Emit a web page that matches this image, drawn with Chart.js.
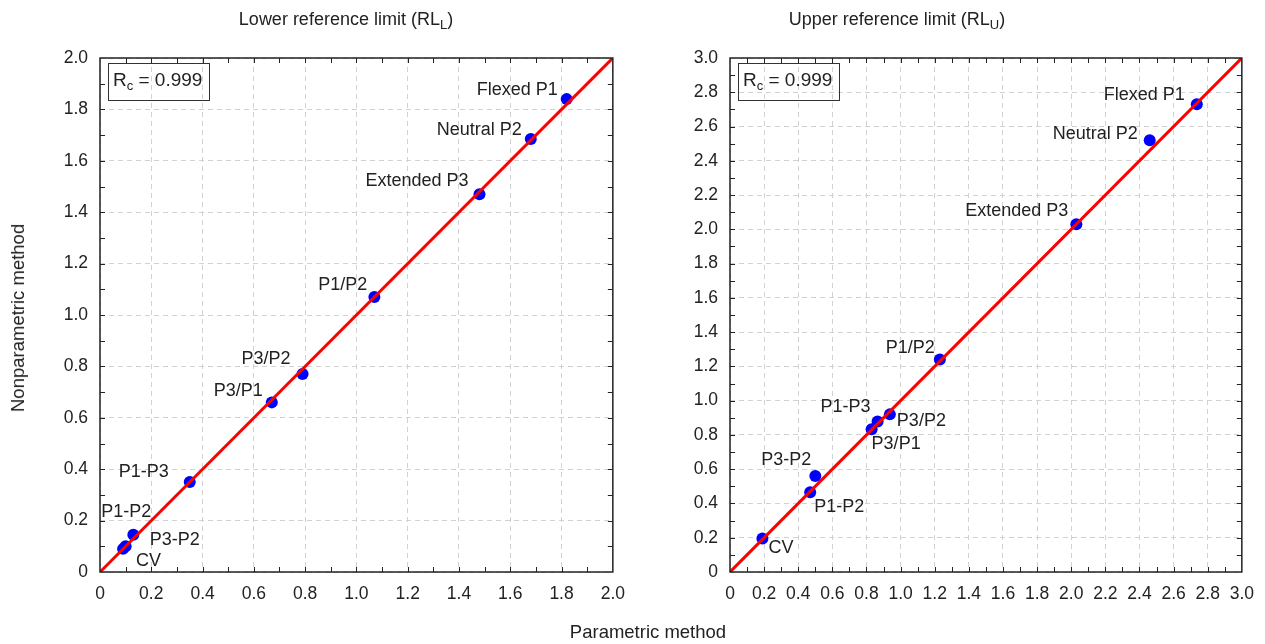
<!DOCTYPE html>
<html>
<head>
<meta charset="utf-8">
<title>Parametric vs nonparametric reference limits</title>
<script src="https://cdn.jsdelivr.net/npm/chart.js@4.4.0/dist/chart.umd.min.js"></script>
<style>
    body { margin: 0; background: #fff; width: 1265px; height: 644px; overflow: hidden; position: relative;
           font-family: Arial, "Liberation Sans", sans-serif; }
    canvas { position: absolute; top: 0; }
    #lowerChart { left: 0; }
    #upperChart { left: 630px; }
    .axisLabel { position: absolute; font-size: 18.5px; color: #222; white-space: nowrap; }
    #xLabel { left: 0; width: 1296px; top: 621px; text-align: center; }
    #yLabel { left: 18px; top: 318px; transform: translate(-50%, -50%) rotate(-90deg); }
</style>
</head>
<body>
<canvas id="lowerChart" width="637" height="644"></canvas>
<canvas id="upperChart" width="636" height="644"></canvas>
<div class="axisLabel" id="xLabel">Parametric method</div>
<div class="axisLabel" id="yLabel">Nonparametric method</div>

<script>
// Lower reference limit (RL_L)
const lowerNames = ["CV", "P3-P2", "P1-P2", "P1-P3", "P3/P1", "P3/P2", "P1/P2", "Extended P3", "Neutral P2", "Flexed P1"];
const lowerParam = [0.09, 0.10, 0.13, 0.35, 0.67, 0.79, 1.07, 1.48, 1.68, 1.82];
const lowerNonparam = [0.09, 0.10, 0.145, 0.35, 0.66, 0.77, 1.07, 1.47, 1.685, 1.84];
const lowerTicks = [0, 0.2, 0.4, 0.6, 0.8, 1.0, 1.2, 1.4, 1.6, 1.8, 2.0];
const lowerTickLabels = ["0", "0.2", "0.4", "0.6", "0.8", "1.0", "1.2", "1.4", "1.6", "1.8", "2.0"];

// Upper reference limit (RL_U)
const upperNames = ["CV", "P1-P2", "P3-P2", "P3/P1", "P1-P3", "P3/P2", "P1/P2", "Extended P3", "Neutral P2", "Flexed P1"];
const upperParam = [0.19, 0.47, 0.50, 0.83, 0.865, 0.937, 1.23, 2.03, 2.46, 2.736];
const upperNonparam = [0.196, 0.466, 0.56, 0.833, 0.878, 0.92, 1.24, 2.03, 2.52, 2.73];
const upperTicks = [0, 0.2, 0.4, 0.6, 0.8, 1.0, 1.2, 1.4, 1.6, 1.8, 2.0, 2.2, 2.4, 2.6, 2.8, 3.0];
const upperTickLabels = ["0", "0.2", "0.4", "0.6", "0.8", "1.0", "1.2", "1.4", "1.6", "1.8", "2.0", "2.2", "2.4", "2.6", "2.8", "3.0"];

const concordance = "0.999";

// label placement next to each point: [align, dx, dy]
const lowerLabelPos = [
    ["left", 13, 12], ["left", 24, -6], ["center", -7, -23], ["right", -21, -10], ["right", -9, -11],
    ["right", -12, -15], ["right", -7, -12], ["right", -11, -13], ["right", -9, -9], ["right", -9, -9]
];
const upperLabelPos = [
    ["left", 6, 10], ["left", 4, 15], ["right", -4, -16], ["left", 0, 15], ["right", -7, -15],
    ["left", 7, 7], ["right", -5, -12], ["right", -8, -13], ["right", -12, -6], ["right", -12, -9]
];

const FONT = 'Arial, "Liberation Sans", sans-serif';
const TEXT = "#222";

// Draw text made of normal and subscript pieces
function drawParts(ctx, parts, x, y, size, align) {
    const widths = parts.map(p => {
        ctx.font = (p[1] ? Math.round(size * 0.7) : size) + "px " + FONT;
        return ctx.measureText(p[0]).width;
    });
    const total = widths.reduce((a, b) => a + b, 0);
    let cx = align === "center" ? x - total / 2 : x;
    parts.forEach((p, i) => {
        ctx.font = (p[1] ? Math.round(size * 0.7) : size) + "px " + FONT;
        ctx.fillText(p[0], cx, p[1] ? y + size * 0.3 : y);
        cx += widths[i];
    });
    return total;
}

function axisOptions(values, labels, isX) {
    return {
        type: "linear",
        min: values[0],
        max: values[values.length - 1],
        afterBuildTicks: s => { s.ticks = values.map(v => ({ value: v })); },
        afterFit: s => { if (isX) s.height = 72; else s.width = 100; },
        grid: { color: "#d2d2d2", lineWidth: 1, drawTicks: false },
        border: { display: false, dash: [5, 4] },
        ticks: {
            padding: 12,
            color: TEXT,
            font: { family: FONT, size: 17.5 },
            callback: (v, i) => labels[i]
        }
    };
}

function annotatePlugin(cfg) {
    return {
        id: "annotate",
        afterDatasetsDraw(chart) {
            const ctx = chart.ctx;
            const meta = chart.getDatasetMeta(1);
            ctx.save();
            ctx.fillStyle = TEXT;
            ctx.font = "18px " + FONT;
            ctx.textBaseline = "middle";
            meta.data.forEach((pt, i) => {
                const pos = cfg.labelPos[i];
                ctx.textAlign = pos[0];
                ctx.fillText(cfg.names[i], pt.x + pos[1], pt.y + pos[2]);
            });
            ctx.restore();
        },
        afterDraw(chart) {
            const ctx = chart.ctx;
            const area = chart.chartArea;
            const xs = chart.scales.x, ys = chart.scales.y;
            const top = cfg.ticks[cfg.ticks.length - 1];
            ctx.save();
            // inward tick marks every 0.1 on all four sides
            ctx.strokeStyle = "#222";
            ctx.lineWidth = 1;
            ctx.beginPath();
            for (let i = 1; i * 0.1 < top - 0.001; i++) {
                const px = Math.round(xs.getPixelForValue(i * 0.1)) + 0.5;
                const py = Math.round(ys.getPixelForValue(i * 0.1)) + 0.5;
                ctx.moveTo(px, area.bottom); ctx.lineTo(px, area.bottom - 5);
                ctx.moveTo(px, area.top); ctx.lineTo(px, area.top + 5);
                ctx.moveTo(area.left, py); ctx.lineTo(area.left + 5, py);
                ctx.moveTo(area.right, py); ctx.lineTo(area.right - 5, py);
            }
            ctx.stroke();
            // frame
            ctx.lineWidth = 1.5;
            ctx.strokeRect(area.left, area.top, area.right - area.left, area.bottom - area.top);
            // concordance box
            ctx.lineWidth = 1;
            ctx.strokeStyle = "#333";
            ctx.strokeRect(area.left + 8.5, area.top + 5.5, 101, 37);
            ctx.fillStyle = TEXT;
            ctx.textBaseline = "middle";
            ctx.textAlign = "left";
            drawParts(ctx, [["R", false], ["c", true], [" = " + concordance, false]], area.left + 13, area.top + 23, 19, "left");
            // title
            drawParts(ctx, [[cfg.title, false], [cfg.sub, true], [")", false]], cfg.titleX, 20, 18, "center");
            ctx.restore();
        }
    };
}

function buildChart(canvasId, cfg) {
    const points = cfg.param.map((x, i) => ({ x: x, y: cfg.nonparam[i] }));
    const top = cfg.ticks[cfg.ticks.length - 1];
    return new Chart(document.getElementById(canvasId), {
        type: "scatter",
        data: {
            datasets: [
                {
                    type: "line",
                    data: [{ x: cfg.ticks[0], y: cfg.ticks[0] }, { x: top, y: top }],
                    borderColor: "#ff0000",
                    borderWidth: 3,
                    pointRadius: 0,
                    order: 0
                },
                {
                    data: points,
                    backgroundColor: "#0000ff",
                    borderWidth: 0,
                    pointRadius: 6,
                    pointHoverRadius: 6,
                    order: 1
                }
            ]
        },
        options: {
            responsive: false,
            animation: false,
            events: [],
            layout: { autoPadding: false, padding: { top: 58, right: 0, bottom: 0, left: 0 } },
            plugins: { legend: { display: false }, tooltip: { enabled: false } },
            scales: {
                x: axisOptions(cfg.ticks, cfg.tickLabels, true),
                y: axisOptions(cfg.ticks, cfg.tickLabels, false)
            }
        },
        plugins: [annotatePlugin(cfg)]
    });
}

buildChart("lowerChart", {
    names: lowerNames, param: lowerParam, nonparam: lowerNonparam,
    ticks: lowerTicks, tickLabels: lowerTickLabels, labelPos: lowerLabelPos,
    title: "Lower reference limit (RL", sub: "L", titleX: 346
});

buildChart("upperChart", {
    names: upperNames, param: upperParam, nonparam: upperNonparam,
    ticks: upperTicks, tickLabels: upperTickLabels, labelPos: upperLabelPos,
    title: "Upper reference limit (RL", sub: "U", titleX: 267
});
</script>
</body>
</html>
